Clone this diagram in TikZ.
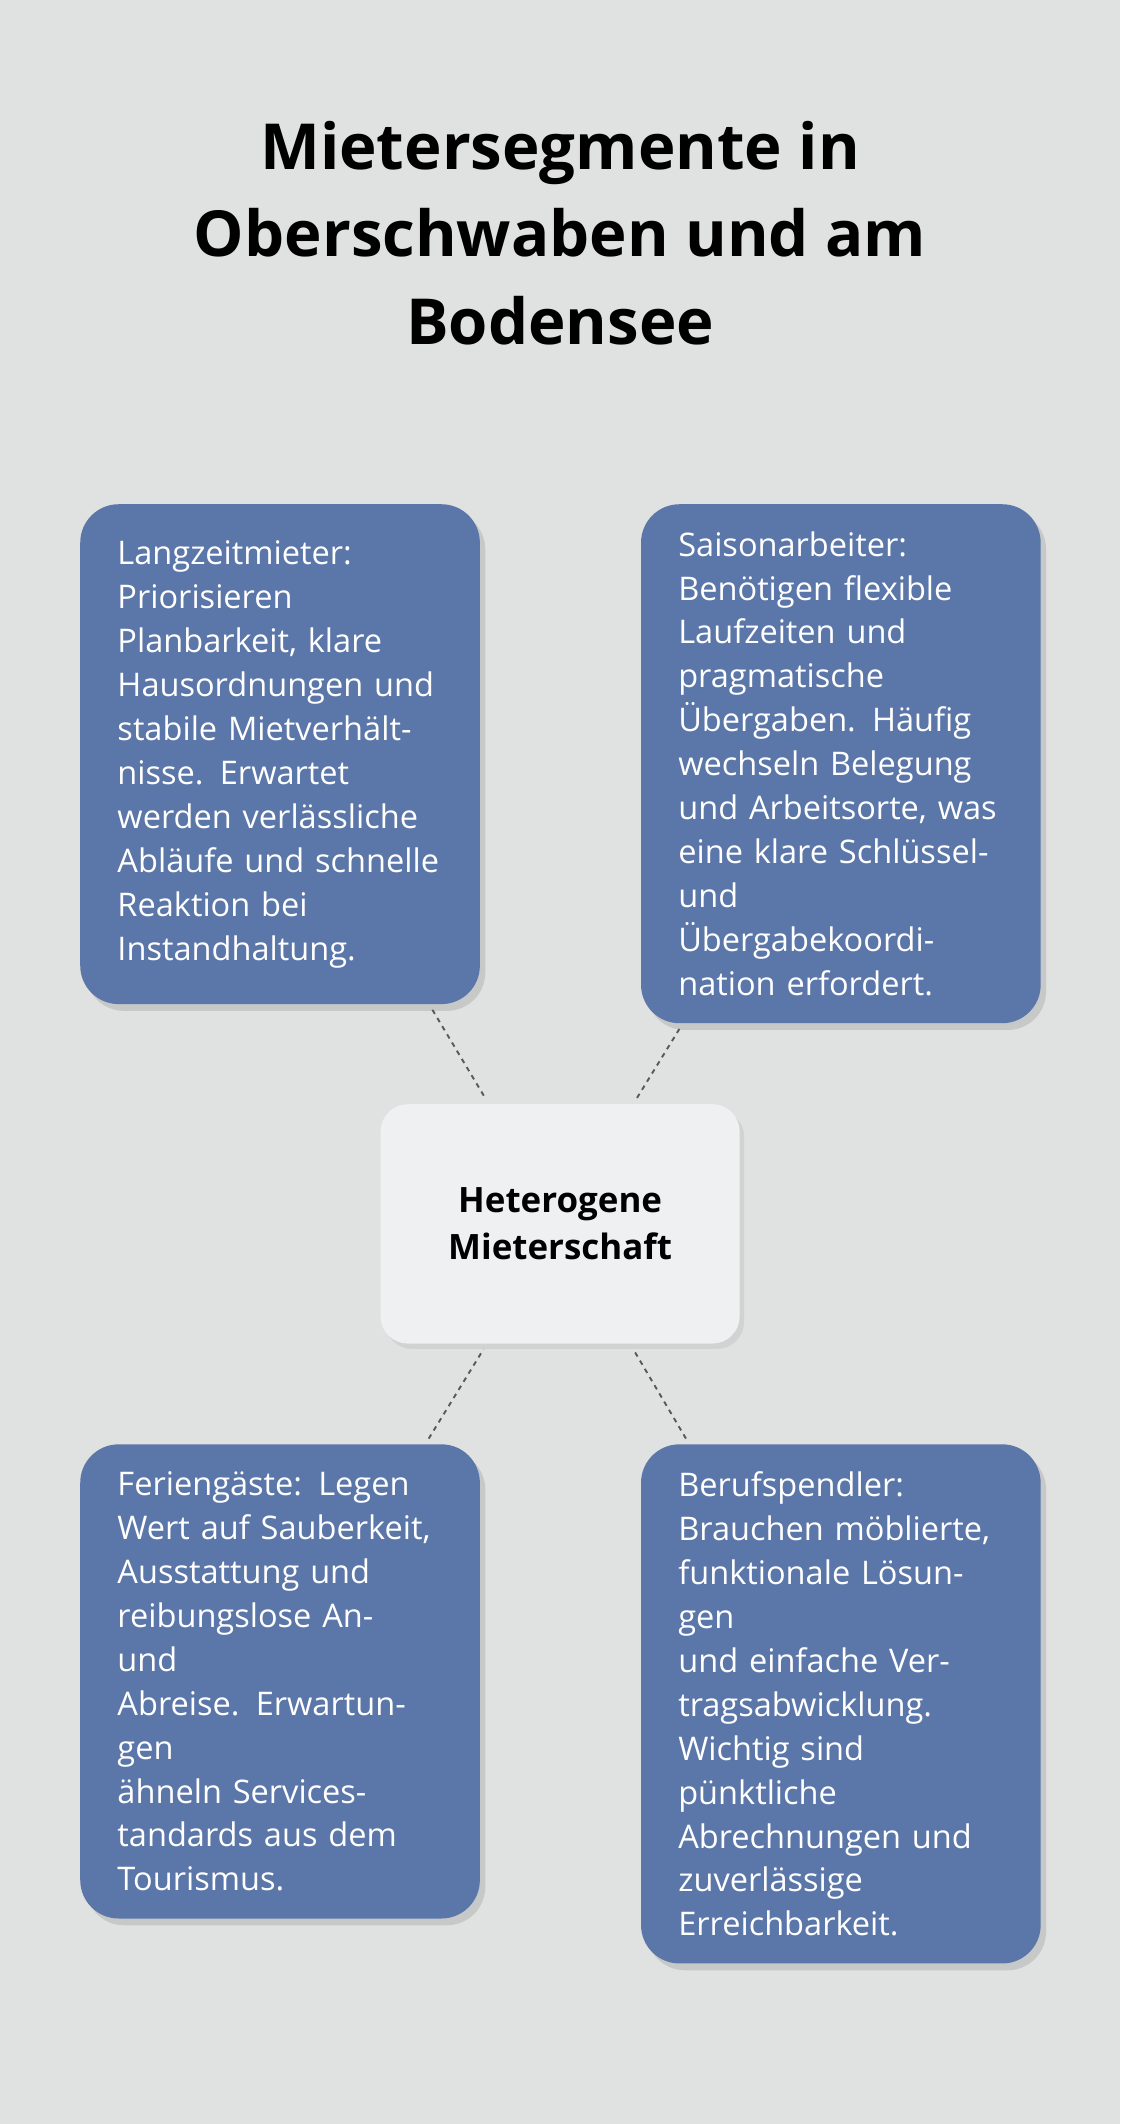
\documentclass[tikz,border=0pt]{standalone}
\usepackage{fontspec}
\setmainfont{Open Sans}
\usetikzlibrary{positioning,shadows}
\definecolor{bgcol}{HTML}{E0E1E1}
\definecolor{segcol}{HTML}{5B76A8}
\definecolor{hubcol}{HTML}{EFF0F2}
\begin{document}
\begin{tikzpicture}[x=0.03cm, y=-0.03cm,
  segment/.style = {draw=none, fill=segcol, rounded corners=0.85cm, anchor=north west,
    text width=7.2cm, inner xsep=0.66cm, inner ysep=0.6cm, align=left, text=white,
    font=\fontsize{20.5}{27.7}\selectfont, minimum width=8.85cm,
    drop shadow={shadow xshift=0.12cm, shadow yshift=-0.15cm, opacity=0.25}},
  hub/.style = {fill=hubcol, rounded corners=0.6cm, minimum width=7.95cm, minimum height=5.3cm,
    align=center, font=\bfseries\fontsize{22}{30}\selectfont,
    drop shadow={shadow xshift=0.1cm, shadow yshift=-0.12cm, opacity=0.15}},
  link/.style = {draw=black!65, line width=1.2pt, dash pattern=on 3pt off 3pt, shorten <=4pt, shorten >=4pt}]
  \fill[bgcol] (0,0) rectangle (827,1568);
  \node[align=center, font=\bfseries\fontsize{40}{55}\selectfont] (title) at (413.5,172)
    {Mietersegmente in\\Oberschwaben und am\\Bodensee};
  \node[segment, minimum height=11.07cm] (tl) at (59,372) {Langzeitmieter:\\Priorisieren\\Planbarkeit, klare\\Hausordnungen und\\stabile Mietverhält-\\nisse. Erwartet\\werden verlässliche\\Abläufe und schnelle\\Reaktion bei\\Instandhaltung.};
  \node[segment, minimum height=11.07cm] (tr) at (473,372) {Saisonarbeiter:\\Benötigen flexible\\Laufzeiten und\\pragmatische\\Übergaben. Häufig\\wechseln Belegung\\und Arbeitsorte, was\\eine klare Schlüssel-\\und Übergabekoordi-\\nation erfordert.};
  \node[hub] (hub) at (413.5,903.5) {Heterogene\\Mieterschaft};
  \node[segment, minimum height=9.12cm] (bl) at (59,1066) {Feriengäste: Legen\\Wert auf Sauberkeit,\\Ausstattung und\\reibungslose An- und\\Abreise. Erwartungen\\ähneln Services-\\tandards aus dem\\Tourismus.};
  \node[segment, minimum height=11.07cm] (br) at (473,1066) {Berufspendler:\\Brauchen möblierte,\\funktionale Lösungen\\und einfache Ver-\\tragsabwicklung.\\Wichtig sind\\pünktliche\\Abrechnungen und\\zuverlässige\\Erreichbarkeit.};
  \draw[link] (tl) -- (hub);
  \draw[link] (tr) -- (hub);
  \draw[link] (bl) -- (hub);
  \draw[link] (br) -- (hub);
\end{tikzpicture}
\end{document}
